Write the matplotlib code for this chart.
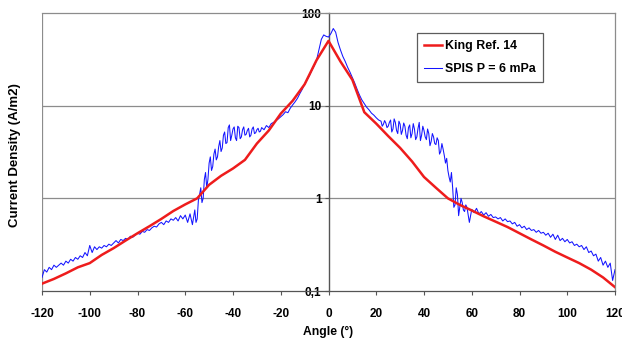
import matplotlib
matplotlib.use("Agg")
import matplotlib.pyplot as plt
from matplotlib.ticker import FixedLocator, FixedFormatter, NullLocator

plt.rcParams['font.family'] = ['Liberation Sans', 'DejaVu Sans']

# King Ref. 14 (every 5 degrees)
king_angle = list(range(-120, 121, 5))
king_value = [0.12, 0.135, 0.155, 0.18, 0.2, 0.245, 0.29, 0.35, 0.42, 0.5,
              0.6, 0.73, 0.86, 1.0, 1.4, 1.75, 2.1, 2.6, 3.9, 5.4,
              8.2, 11.3, 17, 31, 50, 30, 19, 8.5, 6.4, 4.7,
              3.5, 2.5, 1.7, 1.3, 1.0, 0.85, 0.74, 0.64, 0.56, 0.49,
              0.42, 0.36, 0.31, 0.265, 0.23, 0.2, 0.17, 0.14, 0.11]

# SPIS P = 6 mPa (every degree)
spis_angle = list(range(-120, 121))
spis_value = [
    0.14, 0.17, 0.16, 0.18, 0.17, 0.19, 0.18, 0.19, 0.2, 0.19,
    0.21, 0.2, 0.22, 0.21, 0.23, 0.22, 0.24, 0.23, 0.26, 0.24,
    0.31, 0.26, 0.3, 0.28, 0.3, 0.29, 0.31, 0.3, 0.32, 0.31,
    0.33, 0.35, 0.33, 0.36, 0.35, 0.37, 0.36, 0.39, 0.38, 0.4,
    0.42, 0.41, 0.44, 0.43, 0.46, 0.45, 0.48, 0.5, 0.49, 0.53,
    0.55, 0.52, 0.57, 0.55, 0.6, 0.58, 0.62, 0.57, 0.65, 0.6,
    0.66, 0.55, 0.68, 0.52, 0.75, 0.6, 1.1, 0.9, 1.6, 1.3,
    2.4, 2.0, 3.0, 2.6, 3.6, 3.2, 4.8, 3.9, 5.8, 4.2,
    5.6, 4.5, 6.0, 4.4, 5.5, 4.8, 5.4, 4.6, 5.6, 5.0,
    5.5, 5.2, 5.8, 5.5, 6.1, 5.8, 6.4, 6.6, 6.9, 7.2,
    7.6, 8.0, 8.6, 8.4, 9.4, 10.2, 11.0, 12.0, 13.5, 15,
    17, 19, 21, 24, 27, 31, 40, 52, 58, 56,
    55,
    60, 68, 62, 48, 40, 34, 30, 26, 23, 20,
    17.5, 15, 13, 11.5, 10.5, 9.6, 9.0, 8.3, 7.9, 7.4,
    7.0, 6.8, 6.3, 6.5, 6.0, 7.0, 5.6, 6.6, 5.0, 6.3,
    5.4, 6.0, 4.4, 6.2, 5.0, 5.6, 4.6, 6.6, 4.8, 5.4,
    4.3, 5.0, 4.1, 4.6, 3.8, 4.2, 3.2, 3.4, 2.4, 2.0,
    1.5, 1.3, 0.85, 1.1, 0.8, 0.9, 0.72, 0.8, 0.55, 0.76,
    0.7, 0.78, 0.68, 0.72, 0.66, 0.7, 0.64, 0.67, 0.62, 0.63,
    0.6, 0.62, 0.57, 0.6, 0.56, 0.57, 0.53, 0.55, 0.5, 0.52,
    0.48, 0.5, 0.46, 0.48, 0.45, 0.46, 0.43, 0.45, 0.42, 0.43,
    0.4, 0.42, 0.38, 0.41, 0.36, 0.4, 0.35, 0.37, 0.34, 0.36,
    0.33, 0.34, 0.31, 0.32, 0.3, 0.31, 0.28, 0.3, 0.26, 0.27,
    0.24, 0.25, 0.21, 0.23, 0.19, 0.21, 0.18, 0.2, 0.13, 0.17]

# extra half-degree SPIS samples in the noisy regions
spis_left_half_angle = [a + 0.5 for a in range(-56, -28)]
spis_left_half_value = [
    0.55, 0.95, 1.3, 1.0, 1.9, 1.6, 2.8, 2.2, 3.4, 2.8,
    4.2, 3.5, 5.2, 4.0, 6.2, 4.8, 5.9, 4.2, 5.8, 4.6,
    5.9, 4.9, 5.7, 4.8, 5.9, 5.1, 5.7, 5.3]
spis_right_half_angle = [a + 0.5 for a in range(22, 58)]
spis_right_half_value = [
    6.0, 6.9, 5.8, 6.6, 5.2, 7.2, 5.4, 6.8, 4.9, 6.5,
    4.8, 5.8, 4.5, 6.4, 4.3, 5.7, 4.2, 6.0, 4.6, 5.6,
    3.7, 5.0, 3.9, 4.5, 3.0, 3.9, 2.9, 2.7, 1.7, 1.9,
    0.8, 1.3, 0.65, 1.0, 0.75, 0.85]

x_ticks = list(range(-120, 121, 20))
y_ticks = [0.1, 1, 10, 100]
y_tick_labels = ["0,1", "1", "10", "100"]

spis = sorted(zip(spis_angle + spis_left_half_angle + spis_right_half_angle,
                  spis_value + spis_left_half_value + spis_right_half_value))
spis_x = [p[0] for p in spis]
spis_y = [p[1] for p in spis]

fig = plt.figure(figsize=(6.22, 3.39), dpi=100)
ax = fig.add_axes([42/622, 1 - 291/339, (615 - 42)/622, (291 - 13)/339])

ax.set_yscale('log')
ax.set_xlim(-120, 120)
ax.set_ylim(0.1, 100)

grid_c = '#8c8c8c'
for yv in [1, 10]:
    ax.axhline(yv, color=grid_c, lw=0.9, zorder=1)
ax.axvline(-120, color=grid_c, lw=0.9, zorder=1)

ax.plot(spis_x, spis_y, color='#1414ff', lw=0.75, zorder=3,
        label='SPIS P = 6 mPa')
ax.plot(king_angle, king_value, color='#ee1c1c', lw=1.8, zorder=4,
        label='King Ref. 14')

ax.spines['left'].set_position(('data', 0))
ax.spines['left'].set_color('#555555')
ax.spines['left'].set_linewidth(1.0)
ax.spines['right'].set_color(grid_c)
ax.spines['top'].set_color(grid_c)
ax.spines['bottom'].set_color('#555555')
for s in ['right', 'top', 'bottom']:
    ax.spines[s].set_linewidth(0.9)

ax.set_xticks(x_ticks)
ax.set_xticklabels([str(v) for v in x_ticks], fontsize=8.5, fontweight='bold')
ax.yaxis.set_major_locator(FixedLocator(y_ticks))
ax.yaxis.set_major_formatter(FixedFormatter(y_tick_labels))
ax.yaxis.set_minor_locator(NullLocator())
for lab in ax.get_yticklabels():
    lab.set_fontsize(8.5)
    lab.set_fontweight('bold')
ax.tick_params(axis='both', direction='out', length=3, width=0.8,
               color='#555555', pad=2)
ax.tick_params(axis='x', pad=9)

fig.text(328/622, 1 - 332/339, 'Angle (°)', fontsize=8.7,
         fontweight='bold', ha='center', va='center')
fig.text(15/622, 1 - 155/339, 'Current Density (A/m2)', rotation=90,
         fontsize=9.5, fontweight='bold', ha='center', va='center')

handles, labels = ax.get_legend_handles_labels()
leg = ax.legend(handles[::-1], labels[::-1], loc='upper left',
                bbox_to_anchor=((417 - 42)/573, 1 - (33 - 13)/278),
                prop={'size': 8.9, 'weight': 'bold'}, frameon=True,
                fancybox=False, borderpad=0.6, handlelength=1.4,
                handletextpad=0.25, labelspacing=0.85, borderaxespad=0)
leg.get_frame().set_edgecolor('#333333')
leg.get_frame().set_linewidth(0.9)

fig.savefig('out.png', dpi=100)
